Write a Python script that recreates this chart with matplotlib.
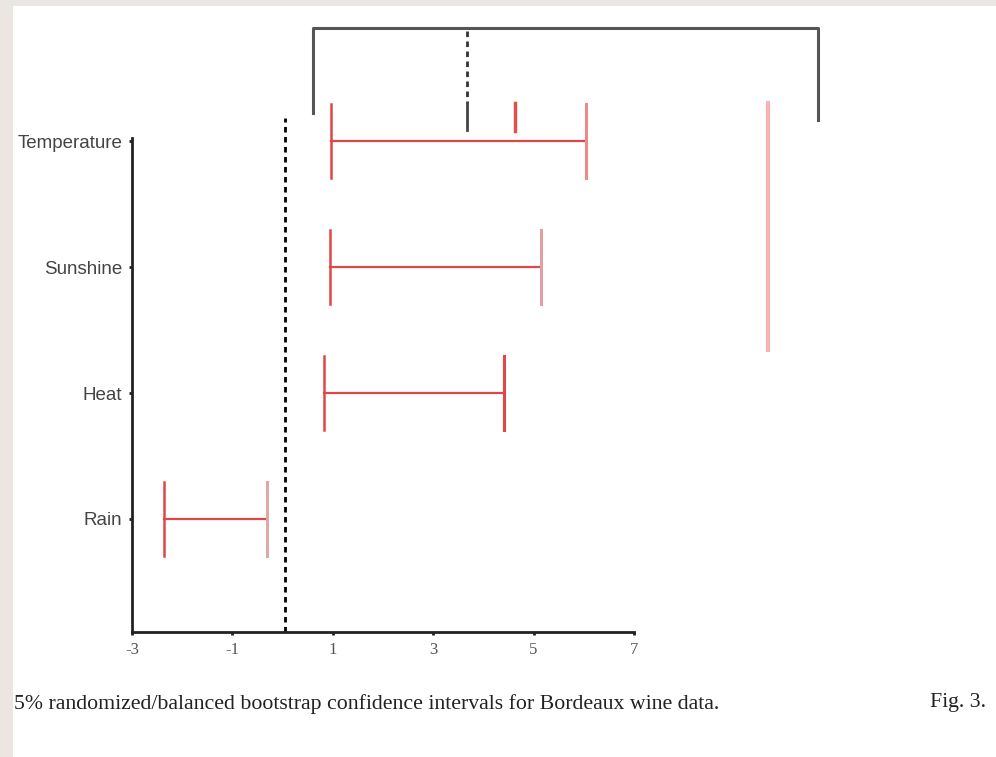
import numpy as np
import matplotlib
matplotlib.use("Agg")
import matplotlib.pyplot as plt
from matplotlib.patches import Rectangle

# confidence intervals (lower, upper) per variable, top to bottom
variables = ["Temperature", "Sunshine", "Heat", "Rain"]
lower = [0.97, 0.94, 0.82, -2.36]
upper = [6.05, 5.15, 4.41, -0.31]
ypos = [4, 3, 2, 1]
# caps at the right end come out paler on the scan
upper_cap_colors = ["#ec8a8a", "#e0a0a0", "#e04646", "#e0a8a8"]

xticks = [-3, -1, 1, 3, 5, 7]
xticklabels = ["-3", "-1", "1", "3", "5", "7"]

# stray marks above the plot (from the scanned page)
bracket_x = [0.61, 0.61, 10.67, 10.67]
bracket_y = [4.22, 4.90, 4.90, 4.17]
mid_dash_x = 3.67
mid_dash_y = [4.87, 4.30]
mid_solid_y = [4.30, 4.09]
red_tick_x = 4.63
red_tick_y = [4.30, 4.08]
pink_line_x = 9.67
pink_line_y = [4.30, 2.34]

caption = "5% randomized/balanced bootstrap confidence intervals for Bordeaux wine data."
fig_label = "Fig. 3."

fig = plt.figure(figsize=(9.96, 7.57), dpi=100, facecolor="#ebe6e1")
fig.patches.append(Rectangle((13 / 996, 0), 1, 1 - 6 / 757, transform=fig.transFigure,
                             facecolor="white", edgecolor="none", zorder=-10))

ax = fig.add_axes([132 / 996, (757 - 632) / 757, 502 / 996, 494 / 757])
ax.set_facecolor("none")
ax.set_xlim(-3, 7)
ax.set_ylim(0.103, 4.024)

red = "#e04646"
cap = 0.29
for lo, hi, y, cc in zip(lower, upper, ypos, upper_cap_colors):
    ax.plot([lo, hi], [y, y], color=red, lw=1.6, clip_on=False)
    ax.plot([lo, lo], [y - cap, y + cap], color=red, lw=1.8, clip_on=False)
    ax.plot([hi, hi], [y - cap, y + cap], color=cc, lw=2.2, clip_on=False)

# reference line at zero
ax.plot([0.04, 0.04], [0.103, 4.18], color="black", lw=2, ls=(0, (2, 1.6)), clip_on=False)

# stray bracket and lines at top
ax.plot(bracket_x, bracket_y, color="#555555", lw=2.2, clip_on=False)
ax.plot([mid_dash_x] * 2, mid_dash_y, color="#333333", lw=2, ls=(0, (2, 1.6)), clip_on=False)
ax.plot([mid_dash_x] * 2, mid_solid_y, color="#444444", lw=2, clip_on=False)
ax.plot([red_tick_x] * 2, red_tick_y, color="#e05050", lw=2.5, clip_on=False)
ax.plot([pink_line_x] * 2, pink_line_y, color="#f5b3b3", lw=3, clip_on=False)

for s in ["top", "right"]:
    ax.spines[s].set_visible(False)
for s in ["left", "bottom"]:
    ax.spines[s].set_linewidth(2)
    ax.spines[s].set_color("#222222")

ax.set_xticks(xticks)
ax.set_xticklabels(xticklabels, fontfamily="Liberation Serif", fontsize=12, color="#555555")
ax.set_yticks(ypos)
ax.set_yticklabels(variables, fontfamily="Liberation Sans", fontsize=13.5, color="#444444")
ax.tick_params(axis="x", length=2.5, width=2, pad=5, color="#222222")
ax.tick_params(axis="y", length=2.5, width=2, pad=4.5, color="#222222")

fig.text(14 / 996, 1 - 704 / 757, caption, fontfamily="Liberation Serif", fontsize=15.7,
         va="center", ha="left", color="#222222")
fig.text(930 / 996, 1 - 702 / 757, fig_label, fontfamily="Liberation Serif", fontsize=15.7,
         va="center", ha="left", color="#222222")

fig.savefig("out.png", dpi=100, facecolor=fig.get_facecolor())
